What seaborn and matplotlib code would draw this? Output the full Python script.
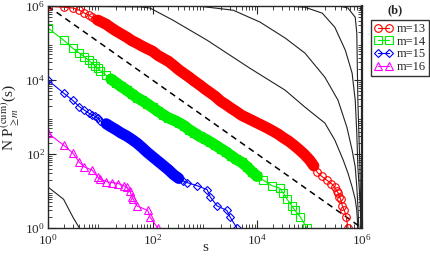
import numpy as np
import pandas as pd
import matplotlib
matplotlib.use("Agg")
import matplotlib.pyplot as plt
import seaborn as sns

# cumulative counts N P_{>=m}(s)
s_13 = [1, 2, 3, 4, 5, 6, 7, 8, 9,
        10, 13, 16, 20, 25, 32, 40, 50, 63, 79, 100, 126, 158, 200, 251, 316, 398, 501, 631, 794,
        1000, 1260, 1580, 2000, 2510, 3160, 3980, 5010, 6310, 7940, 10000, 12600, 15800, 20000,
        25100, 31600, 39800, 50100, 63100, 79400, 100000,
        120000, 140000, 170000, 210000, 260000, 300000, 330000, 350000, 370000, 390000, 420000,
        460000, 500000, 540000]
n_13 = [1000000, 933000, 891000, 776000, 646000, 575000, 501000, 447000, 417000,
        389000, 324000, 263000, 214000, 178000, 145000, 117000, 100000, 83200, 70800, 60300,
        46800, 38900, 32400, 25100, 19100, 15100, 12000, 9330, 7410, 5750, 4570, 3630, 2690,
        2190, 1740, 1410, 1120, 955, 813, 692, 589, 501, 417, 347, 275, 224, 174, 132, 98, 69,
        48, 32, 25, 20, 16, 13, 10, 9, 7, 6, 4, 3, 2, 1]

s_14 = [1, 2, 3, 4, 5, 6, 7, 8, 9, 10,
        13, 16, 20, 25, 32, 40, 50, 63, 79, 100, 126, 158, 200, 251, 316, 398, 501, 631, 794,
        1000, 1260, 1580, 2000, 2510, 3160, 3980, 5010, 6310, 7940, 10000,
        12900, 19100, 26900, 30900, 37200, 45700, 52500, 66100, 89100]
n_14 = [257000, 120000, 72400, 53700, 42700, 34700, 28200, 24000, 20900, 18200,
        13500, 10700, 8510, 6760, 5370, 4270, 3390, 2820, 2290, 1820, 1450, 1170, 955, 832,
        708, 589, 457, 372, 302, 257, 214, 174, 141, 115, 91, 72, 60, 46, 33, 25,
        20, 14, 12, 9, 6, 4, 3, 2, 1]

s_15 = [1, 2, 3, 4, 5, 6, 7, 8, 9, 10,
        13, 16, 20, 25, 32, 40, 50, 63, 79, 100, 126, 158, 200, 251, 316,
        380, 457, 708, 1100, 1260, 1700, 2630, 3020, 4070]
n_15 = [10000, 4470, 2820, 1910, 1550, 1290, 1150, 1050, 933, 794,
        661, 550, 457, 372, 309, 251, 200, 151, 112, 85, 65, 50, 38, 28, 22,
        19, 17, 14, 11, 7, 4, 3, 2, 1]

s_16 = [1, 2, 3, 4, 5, 7, 9, 10, 13, 17, 22, 28, 32, 37, 40, 43, 50, 81, 89, 126]
n_16 = [372, 174, 107, 60, 45, 37, 24, 21, 18, 17, 16, 14, 13, 10, 7, 6, 4, 3, 2, 1]

# other m values (thin black curves)
s_12 = [1, 10, 58, 89, 245, 1100, 7240, 33900, 81300, 195000, 302000, 437000, 537000,
        646000, 741000, 794000, 832000]
n_12 = [1000000, 977000, 955000, 891000, 417000, 120000, 20900, 5370, 1860, 692, 240, 69,
        31, 13, 6, 3, 1]
s_11 = [1, 794, 3470, 11200, 33900, 81300, 195000, 347000, 513000, 646000, 741000, 794000,
        832000, 871000]
n_11 = [1000000, 995000, 776000, 372000, 138000, 53700, 12000, 2880, 537, 129, 45, 13, 4, 1]
s_10 = [1, 41700, 81300, 174000, 302000, 479000, 646000, 741000, 794000, 832000, 912000, 955000]
n_10 = [1000000, 998000, 933000, 646000, 269000, 64600, 15500, 2880, 372, 45, 6, 1]
s_9 = [1, 380000, 537000, 741000, 794000, 832000, 912000, 955000]
n_9 = [1000000, 998000, 891000, 501000, 186000, 2880, 45, 1]
s_17 = [1, 2, 3, 4]
n_17 = [13, 6, 2, 1]

dash_s = [1, 1000000]
dash_n = [1000000, 1]

labels = ["m=13", "m=14", "m=15", "m=16"]
colors = ["#ff0000", "#00ee00", "#0000ff", "#ff00ff"]
markers = ["o", "s", "D", "^"]
# index range where the markers pile up into a solid band
dense = [(8, 51), (11, 40), (10, 25), None]

sns.set_style("ticks")
plt.rcParams["font.family"] = ["Liberation Serif", "DejaVu Serif"]
plt.rcParams["mathtext.fontset"] = "stix"

fig = plt.figure(figsize=(4.31, 2.56), dpi=100)
ax = fig.add_axes([0.111, 0.109, 0.729, 0.867])

for s, n in [(s_12, n_12), (s_11, n_11), (s_10, n_10), (s_9, n_9), (s_17, n_17)]:
    sns.lineplot(x=s, y=n, ax=ax, color="#222222", lw=0.8, sort=False, estimator=None)

sns.lineplot(x=dash_s, y=dash_n, ax=ax, color="black", lw=1.1,
             linestyle=(0, (4, 3)), sort=False, estimator=None)

series = [(s_13, n_13), (s_14, n_14), (s_15, n_15), (s_16, n_16)]
for (s, n), lab, c, mk, rng in zip(series, labels, colors, markers, dense):
    ms = 5.5 if mk != "D" else 4.5
    if rng is not None:
        a, b = rng
        sns.lineplot(x=s[a:b], y=n[a:b], ax=ax, color=c, lw=8, solid_capstyle="round",
                     sort=False, estimator=None)
    sns.lineplot(x=s, y=n, ax=ax, color=c, lw=0.8, marker=mk, markersize=ms,
                 markerfacecolor="none", markeredgecolor=c, markeredgewidth=0.8,
                 label=lab, sort=False, estimator=None)

ax.set_xscale("log")
ax.set_yscale("log")
ax.set_xlim(1, 1e6)
ax.set_ylim(1, 1e6)
ax.set_xticks([1, 1e2, 1e4, 1e6])
ax.set_yticks([1, 1e2, 1e4, 1e6])
ax.xaxis.set_minor_locator(matplotlib.ticker.LogLocator(base=10, subs=np.arange(2, 10), numticks=20))
ax.yaxis.set_minor_locator(matplotlib.ticker.LogLocator(base=10, subs=np.arange(2, 10), numticks=20))
ax.xaxis.set_minor_formatter(matplotlib.ticker.NullFormatter())
ax.yaxis.set_minor_formatter(matplotlib.ticker.NullFormatter())
ax.tick_params(which="both", direction="in", top=True, right=True, labelsize=9.5, pad=2)
ax.tick_params(axis="x", which="both", pad=3.5)
ax.tick_params(which="major", length=6, width=0.8)
ax.tick_params(which="minor", length=3, width=0.6)
for sp in ax.spines.values():
    sp.set_linewidth(1.0)
ax.spines["right"].set_linewidth(1.6)

ax.set_xlabel("s", fontsize=11, labelpad=-5)
ax.set_ylabel(r"N P$_{\geq m}^{\mathrm{(cum)}}$(s)", fontsize=11)
ax.yaxis.set_label_coords(-0.085, 0.5)

handles, labs = ax.get_legend_handles_labels()
ax.get_legend().remove()
fig.legend(handles, labs, loc="upper left", bbox_to_anchor=(0.861, 0.922), numpoints=2,
           fontsize=9, frameon=True, fancybox=False, edgecolor="black", handlelength=1.5,
           handletextpad=0.3, borderpad=0.25, labelspacing=0.05, borderaxespad=0)
fig.text(0.917, 0.961, "(b)", fontsize=9, fontweight="bold", ha="center", va="center")

fig.savefig("out.png", dpi=100)
